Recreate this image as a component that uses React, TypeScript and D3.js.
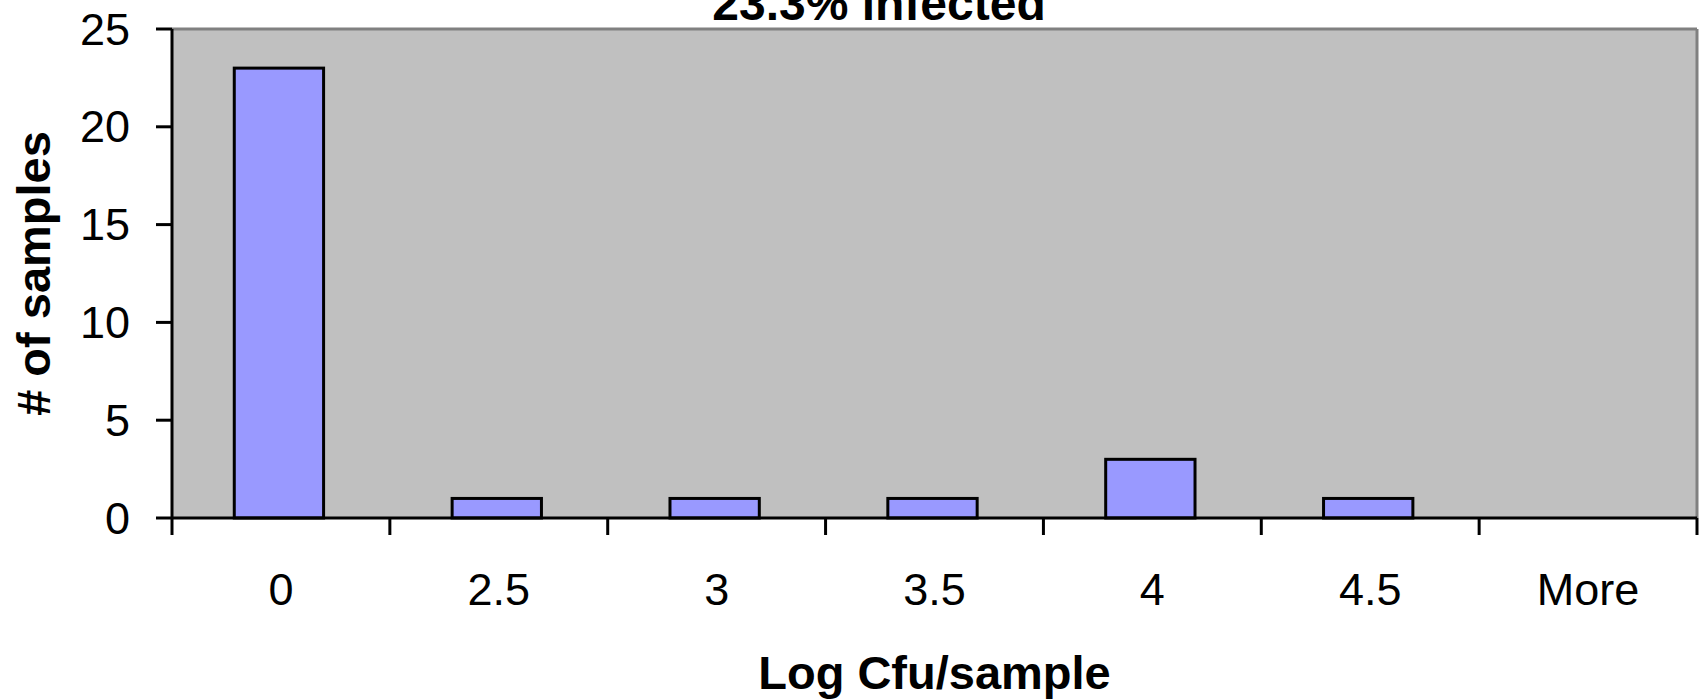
import React from "react";
import * as d3 from "d3";

const categories = ["0", "2.5", "3", "3.5", "4", "4.5", "More"];
const counts = [23, 1, 1, 1, 3, 1, 0];
const yTicks = [0, 5, 10, 15, 20, 25];
const titleText = "23.3% infected";
const xTitle = "Log Cfu/sample";
const yTitle = "# of samples";

const W = 1700;
const H = 700;
const left = 172;
const right = 1697;
const top = 29;
const bottom = 518;
const font = "'Liberation Sans', Arial, sans-serif";

export default function App() {
  const xCat = d3.scaleBand<string>().domain(categories).range([left, right]).padding(0);
  const step = xCat.bandwidth();
  const y = d3.scaleLinear().domain([0, 25]).range([bottom, top]);
  const barW = step * 0.41;
  const tickXs = categories.map((c) => xCat(c) as number).concat([right]);

  return (
    <svg
      width={W}
      height={H}
      style={{ position: "absolute", left: 0, top: 0, background: "#fff" }}
      fontFamily={font}
    >
      <rect x={left} y={top} width={right - left} height={bottom - top} fill="#C0C0C0" />
      <line x1={left} x2={right} y1={top} y2={top} stroke="#808080" strokeWidth={3} />
      <line x1={right} x2={right} y1={top} y2={bottom} stroke="#808080" strokeWidth={3} />

      {categories.map((c, i) =>
        counts[i] > 0 ? (
          <rect
            key={c}
            x={(xCat(c) as number) + (step - barW) / 2 - 2}
            y={y(counts[i])}
            width={barW}
            height={bottom - y(counts[i])}
            fill="#9999FF"
            stroke="#000"
            strokeWidth={3}
          />
        ) : null
      )}

      {/* axes */}
      <line x1={left} x2={left} y1={top} y2={bottom} stroke="#000" strokeWidth={3} />
      <line x1={left} x2={right} y1={bottom} y2={bottom} stroke="#000" strokeWidth={3} />

      {yTicks.map((t) => (
        <g key={t}>
          <line x1={left - 16} x2={left} y1={y(t)} y2={y(t)} stroke="#000" strokeWidth={3} />
          <text
            x={130}
            y={y(t)}
            textAnchor="end"
            dominantBaseline="central"
            fontSize={45}
            fill="#000"
          >
            {t}
          </text>
        </g>
      ))}

      {tickXs.map((tx, i) => (
        <line key={i} x1={tx} x2={tx} y1={bottom} y2={bottom + 17} stroke="#000" strokeWidth={3} />
      ))}

      {categories.map((c) => (
        <text
          key={c}
          x={(xCat(c) as number) + step / 2}
          y={605}
          textAnchor="middle"
          fontSize={45}
          fill="#000"
        >
          {c}
        </text>
      ))}

      <text x={(left + right) / 2} y={689} textAnchor="middle" fontSize={47} fontWeight="bold">
        {xTitle}
      </text>
      <text
        transform={`translate(50, ${(top + bottom) / 2}) rotate(-90)`}
        textAnchor="middle"
        fontSize={47}
        fontWeight="bold"
      >
        {yTitle}
      </text>
      <text x={879} y={20} textAnchor="middle" fontSize={48} fontWeight="bold">
        {titleText}
      </text>
    </svg>
  );
}
